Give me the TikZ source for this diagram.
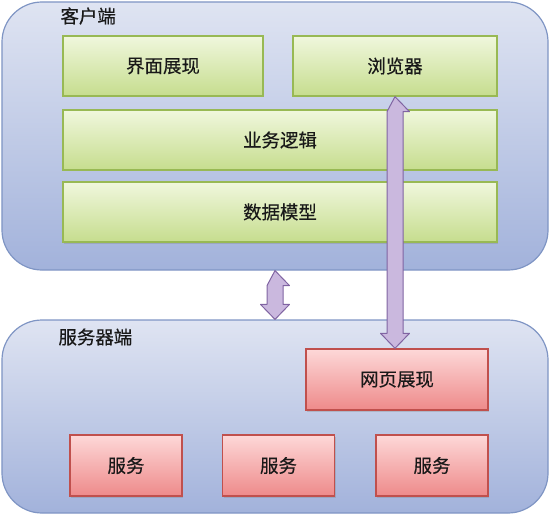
\documentclass[tikz,border=0pt]{standalone}
\usepackage{fontspec}
\newfontfamily\cjk[FakeBold=0.4]{Noto Sans CJK SC}
\usetikzlibrary{calc,shadows}

\definecolor{panelTop}{HTML}{DFE4F2}
\definecolor{panelBot}{HTML}{A2B2DB}
\definecolor{panelLine}{HTML}{7F95C4}
\definecolor{greenTop}{HTML}{F0F7DD}
\definecolor{greenBot}{HTML}{C6DD8E}
\definecolor{greenLine}{HTML}{98B954}
\definecolor{redTop}{HTML}{FDD8D8}
\definecolor{redBot}{HTML}{EE8A8A}
\definecolor{redLine}{HTML}{C0504D}
\definecolor{arrFill}{HTML}{CAB8DE}
\definecolor{arrLine}{HTML}{8064A2}

\tikzset{
  panel/.style={draw=panelLine, line width=1.2bp, rounded corners=40bp,
    top color=panelTop, bottom color=panelBot, inner sep=0pt},
  title/.style={anchor=west, font=\cjk\fontsize{18.5}{19}\selectfont, text=black!90},
  box/.style={line width=1.4bp, inner sep=0pt, font=\cjk\fontsize{18.5}{19}\selectfont,
    text=black!90, drop shadow={shadow xshift=1bp, shadow yshift=-1.5bp, opacity=0.3}},
  greenbox/.style={box, draw=greenLine, top color=greenTop, bottom color=greenBot},
  redbox/.style={box, draw=redLine, top color=redTop, bottom color=redBot},
  fatarr/.style={draw=arrLine, fill=arrFill, line width=1bp, line join=round}
}

% fat double arrow between two points
\newcommand{\dblarrow}[2]{%
  \draw[fatarr] (#1) -- ++(14.5,15) -- ++(-6.5,0) -- ($(#2)+(8,-15)$) -- ++(6.5,0)
    -- (#2) -- ++(-14.5,-15) -- ++(6.5,0) -- ($(#1)+(-8,15)$) -- cycle;}

\begin{document}
\begin{tikzpicture}[x=1bp,y=-1bp]
  \useasboundingbox (0,0) rectangle (550,516);
  % client side
  \node[panel, minimum width=546bp, minimum height=268bp] (client) at (275,136) {};
  \node[title] (clientlbl) at (57,16) {客户端};
  \node[greenbox, minimum width=200bp, minimum height=60bp] (ui) at (163,66) {界面展现};
  \node[greenbox, minimum width=204bp, minimum height=60bp] (browser) at (395,66) {浏览器};
  \node[greenbox, minimum width=434bp, minimum height=60bp] (logic) at (280,140) {业务逻辑};
  \node[greenbox, minimum width=434bp, minimum height=60bp] (model) at (280,212) {数据模型};
  % server side
  \node[panel, minimum width=546bp, minimum height=193bp] (server) at (275,416.5) {};
  \node[title] (serverlbl) at (55,337) {服务器端};
  \node[redbox, minimum width=182bp, minimum height=61bp] (page) at (397,379.5) {网页展现};
  \node[redbox, minimum width=112bp, minimum height=61bp] (srv1) at (126,465.5) {服务};
  \node[redbox, minimum width=112bp, minimum height=61bp] (srv2) at (278.5,465.5) {服务};
  \node[redbox, minimum width=112bp, minimum height=61bp] (srv3) at (432,465.5) {服务};
  % arrows
  \dblarrow{client.south}{server.north}
  \coordinate (pagetop) at (browser.south |- page.north);
  \dblarrow{browser.south}{pagetop}
\end{tikzpicture}
\end{document}
